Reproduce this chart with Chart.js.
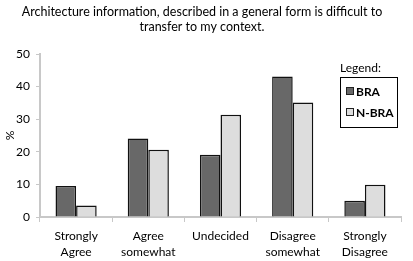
<!DOCTYPE html>
<html>
<head>
<meta charset="utf-8">
<script src="https://cdn.jsdelivr.net/npm/chart.js@4"></script>
<style>
  html, body { margin: 0; padding: 0; background: #fff; }
  #wrap { width: 413px; height: 261px; }
</style>
</head>
<body>
<div id="wrap"><canvas id="surveyChart" width="413" height="261"></canvas></div>
<script>
// categories and values
const categories = [["Strongly", "Agree"], ["Agree", "somewhat"], "Undecided", ["Disagree", "somewhat"], ["Strongly", "Disagree"]];
const braValues = [9.5, 24.1, 19.1, 43.1, 5.0];
const nbraValues = [3.5, 20.6, 31.4, 35.1, 9.9];
const yTicks = [0, 10, 20, 30, 40, 50];

const FONT = "Lato, 'Open Sans', sans-serif";

// legend box drawn inside the plot, with a "Legend:" label above it
const boxLegend = {
  id: "boxLegend",
  afterDraw(chart) {
    const ctx = chart.ctx;
    const x = 340, y = 77, w = 57, h = 50;
    ctx.save();
    ctx.font = "12px " + FONT;
    ctx.fillStyle = "#000";
    ctx.textBaseline = "middle";
    ctx.fillText("Legend:", x, 68);
    ctx.fillStyle = "#fff";
    ctx.fillRect(x, y, w, h);
    ctx.strokeStyle = "#000";
    ctx.lineWidth = 1;
    ctx.strokeRect(x + 0.5, y + 0.5, w, h);
    chart.data.datasets.forEach(function(ds, i) {
      const ry = y + 14 + i * 21;
      ctx.fillStyle = ds.backgroundColor;
      ctx.fillRect(x + 6, ry - 4, 7, 7);
      ctx.strokeStyle = "#222";
      ctx.strokeRect(x + 6.5, ry - 3.5, 7, 7);
      ctx.fillStyle = "#000";
      ctx.font = "bold 12px " + FONT;
      ctx.fillText(ds.label, x + 16, ry + 1);
    });
    ctx.restore();
  }
};

const config = {
  type: "bar",
  data: {
    labels: categories,
    datasets: [
      {
        label: "BRA",
        data: braValues,
        backgroundColor: "#686868",
        borderColor: "#111",
        borderWidth: 1.5,
        categoryPercentage: 0.57,
        barPercentage: 1.0,
      },
      {
        label: "N-BRA",
        data: nbraValues,
        backgroundColor: "#dddddd",
        borderColor: "#111",
        borderWidth: 1.5,
        categoryPercentage: 0.57,
        barPercentage: 1.0,
      },
    ],
  },
  options: {
    responsive: false,
    animation: false,
    layout: { padding: { left: 3, right: 12, top: 0, bottom: 0 } },
    plugins: {
      legend: { display: false },
      tooltip: { enabled: false },
      title: {
        display: true,
        text: ["Architecture information, described in a general form is difficult to", "transfer to my context."],
        color: "#000",
        font: { family: FONT, size: 12.5, weight: "normal" },
        padding: { top: 4, bottom: 20 },
        lineHeight: 1.3,
      },
    },
    scales: {
      x: {
        offset: true,
        afterFit(scale) { scale.height = 44; },
        grid: { display: true, drawOnChartArea: false, offset: true, tickLength: 5, color: "#c8c8c8" },
        border: { color: "#c8c8c8", width: 2 },
        ticks: { color: "#000", font: { family: FONT, size: 12, lineHeight: 1.35 }, maxRotation: 0, padding: 6 },
      },
      y: {
        min: 0,
        max: 50,
        afterBuildTicks(scale) { scale.ticks = yTicks.map(v => ({ value: v })); },
        afterFit(scale) { scale.width = 37; },
        grid: { display: true, drawOnChartArea: false, tickLength: 4, color: "#c8c8c8" },
        border: { color: "#c8c8c8", width: 2 },
        ticks: { color: "#000", font: { family: FONT, size: 12 }, padding: 6 },
        title: { display: true, text: "%", color: "#000", font: { family: FONT, size: 12 }, padding: 0 },
      },
    },
  },
  plugins: [boxLegend],
};

const ctx = document.getElementById("surveyChart").getContext("2d");
const surveyChart = new Chart(ctx, config);
</script>
</body>
</html>
